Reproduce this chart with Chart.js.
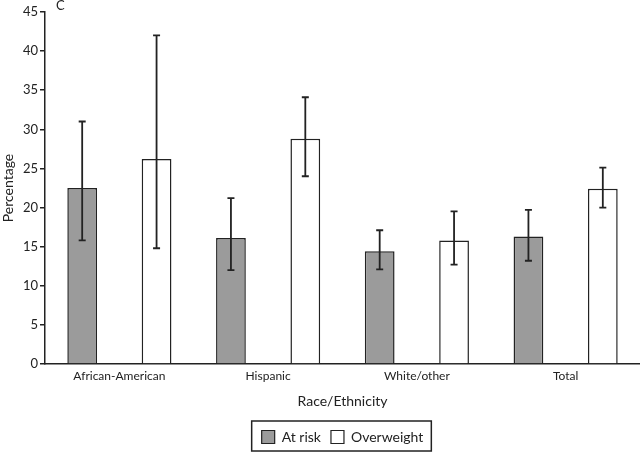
<!DOCTYPE html>
<html>
<head>
  <title>Race/Ethnicity</title>
  <script src="https://cdn.jsdelivr.net/npm/chart.js"></script>
  <style>
    body { margin: 0; background: #fff; }
    #wrap { width: 640px; height: 452px; }
  </style>
</head>
<body>
  <div id="wrap"><canvas id="barChart"></canvas></div>

  <script>
    const categories = ["African-American", "Hispanic", "White/other", "Total"];
    const atRisk = [22.5, 16.1, 14.4, 16.3];
    const atRiskLow = [15.8, 12.0, 12.1, 13.2];
    const atRiskHigh = [31.0, 21.2, 17.1, 19.7];
    const overweight = [26.2, 28.8, 15.8, 22.4];
    const overweightLow = [14.8, 24.0, 12.7, 20.0];
    const overweightHigh = [42.0, 34.1, 19.5, 25.1];
    const yTicks = [0, 5, 10, 15, 20, 25, 30, 35, 40, 45];

    const ink = '#222';
    const font = "Lato, 'Open Sans', sans-serif";

    // error bars drawn on top of each bar
    const errorBars = {
      id: 'errorBars',
      afterDatasetsDraw(chart) {
        const ctx = chart.ctx;
        const y = chart.scales.y;
        const ranges = [[atRiskLow, atRiskHigh], [overweightLow, overweightHigh]];
        ctx.save();
        ctx.strokeStyle = ink;
        ctx.lineWidth = 1.8;
        ranges.forEach((r, i) => {
          chart.getDatasetMeta(i).data.forEach((bar, j) => {
            const top = y.getPixelForValue(r[1][j]);
            const bot = y.getPixelForValue(r[0][j]);
            ctx.beginPath();
            ctx.moveTo(bar.x, top); ctx.lineTo(bar.x, bot);
            ctx.moveTo(bar.x - 3.5, top); ctx.lineTo(bar.x + 3.5, top);
            ctx.moveTo(bar.x - 3.5, bot); ctx.lineTo(bar.x + 3.5, bot);
            ctx.stroke();
          });
        });
        ctx.restore();
      }
    };

    // centre the legend under the plot area, not the whole canvas
    const legendShift = {
      id: 'legendShift',
      afterLayout(chart) {
        chart.legend.left = chart.chartArea.left;
        chart.legend.top += 2;
      }
    };

    // panel letter and box round the legend
    const extras = {
      id: 'extras',
      afterDraw(chart) {
        const ctx = chart.ctx;
        ctx.save();
        ctx.fillStyle = ink;
        ctx.font = "13px " + font;
        ctx.textBaseline = 'middle';
        ctx.fillText('C', chart.chartArea.left + 11, chart.chartArea.top - 6);
        const boxes = chart.legend.legendHitBoxes;
        if (boxes && boxes.length) {
          const l = boxes[0].left - 10;
          const r = boxes[boxes.length - 1].left + boxes[boxes.length - 1].width + 8;
          const t = boxes[0].top - 9;
          const b = boxes[0].top + boxes[0].height + 7;
          ctx.strokeStyle = ink;
          ctx.lineWidth = 1.5;
          ctx.strokeRect(l, t, r - l, b - t);
        }
        ctx.restore();
      }
    };

    new Chart(document.getElementById('barChart'), {
      type: 'bar',
      data: {
        labels: categories,
        datasets: [
          { label: 'At risk', data: atRisk, backgroundColor: '#9b9b9b', borderColor: ink, borderWidth: 1.5 },
          { label: 'Overweight', data: overweight, backgroundColor: '#fff', borderColor: ink, borderWidth: 1.5 }
        ]
      },
      options: {
        responsive: true,
        maintainAspectRatio: false,
        animation: false,
        categoryPercentage: 1.0,
        barPercentage: 0.4,
        layout: { padding: { top: 12, right: 0, left: 0, bottom: 0 } },
        plugins: {
          tooltip: { enabled: false },
          legend: {
            position: 'bottom',
            labels: {
              boxWidth: 13, boxHeight: 13, color: ink, padding: 10,
              font: { family: font, size: 14 },
              generateLabels(chart) {
                return chart.data.datasets.map((d, i) => ({
                  text: d.label, fillStyle: d.backgroundColor, strokeStyle: ink,
                  lineWidth: 1.2, datasetIndex: i, fontColor: ink
                }));
              }
            }
          }
        },
        scales: {
          x: {
            afterFit(axis) { axis.height = 54; },
            grid: { display: false, drawTicks: false },
            border: { display: true, color: ink, width: 1.5 },
            ticks: { color: ink, font: { family: font, size: 12 }, padding: 5 },
            title: { display: true, text: 'Race/Ethnicity', color: ink, font: { family: font, size: 14 }, padding: { top: 4, bottom: 8 } }
          },
          y: {
            min: 0, max: 45,
            afterBuildTicks(axis) { axis.ticks = yTicks.map(v => ({ value: v })); },
            afterFit(axis) { axis.width = 45; },
            grid: { display: true, drawOnChartArea: false, drawTicks: true, tickLength: 5, color: ink, lineWidth: 1.5 },
            border: { display: true, color: ink, width: 1.5 },
            ticks: { color: ink, font: { family: font, size: 13 }, padding: 2 },
            title: { display: true, text: 'Percentage', color: ink, font: { family: font, size: 14 }, padding: 0 }
          }
        }
      },
      plugins: [errorBars, legendShift, extras]
    });
  </script>
</body>
</html>
